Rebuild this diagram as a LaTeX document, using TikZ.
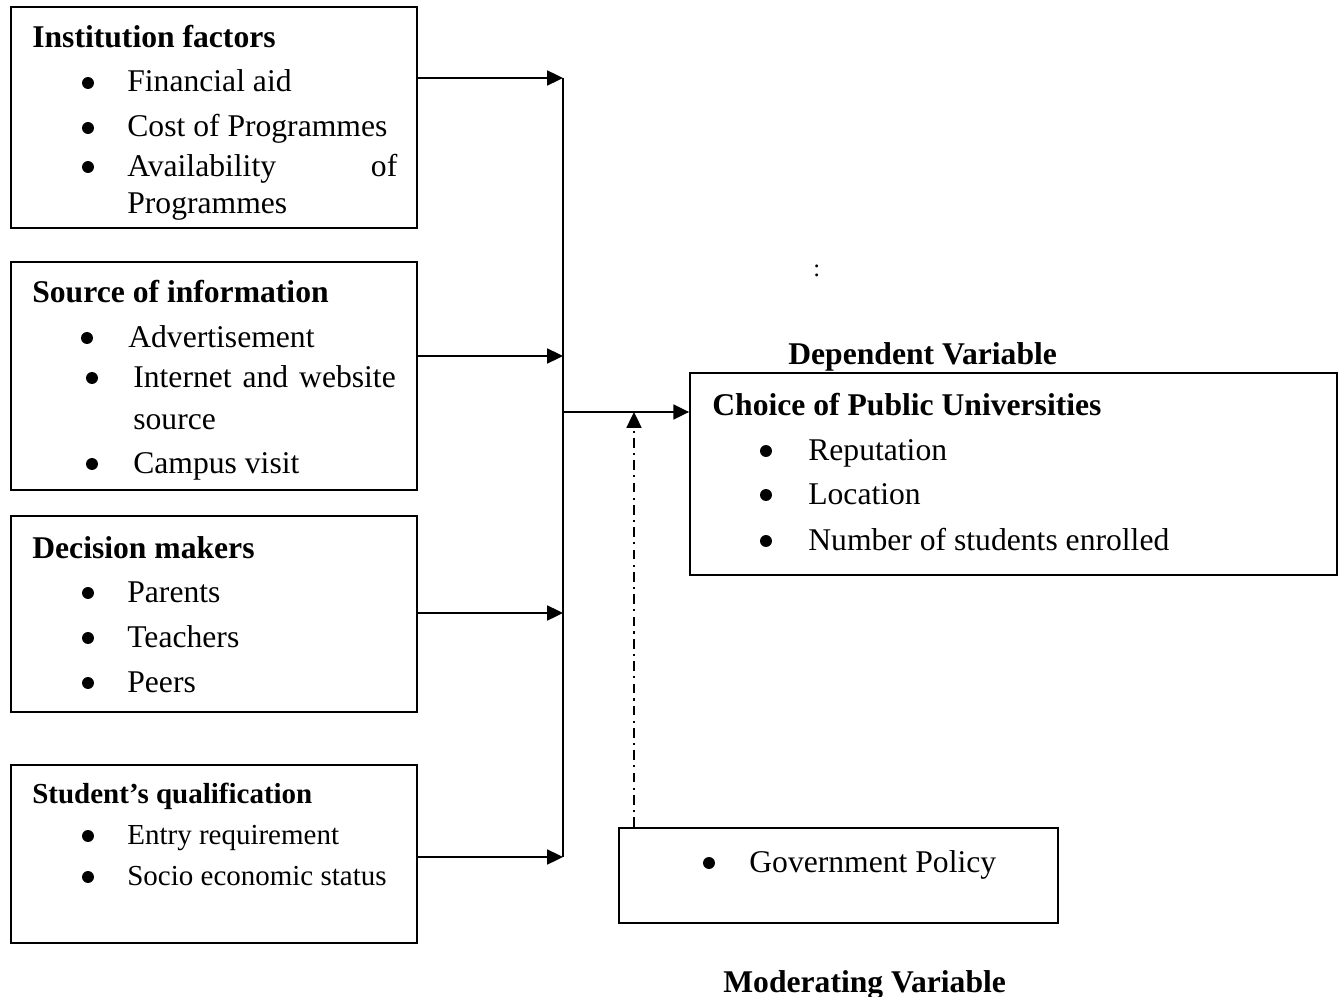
\documentclass[tikz,border=0pt]{standalone}
\usepackage{fontspec}
\setmainfont{Liberation Serif}
\usetikzlibrary{arrows.meta}
\tikzset{
  box/.style={draw, line width=1.1pt, inner sep=0pt},
  txt/.style={anchor=base west, inner sep=0pt, font=\fontsize{18}{22}\selectfont},
  hd/.style={txt, font=\fontsize{18}{22}\selectfont\bfseries},
  sml/.style={txt, font=\fontsize{16.5}{20}\selectfont},
  smlhd/.style={txt, font=\fontsize{16.5}{20}\selectfont\bfseries},
  arr/.style={line width=1.1pt, -{Triangle[length=9pt, width=8.5pt]}},
  dashdot/.style={line width=1.1pt, dash pattern=on 5.5pt off 3pt on 1.2pt off 3pt, -{Triangle[length=9pt, width=8.5pt]}},
}
\newcommand{\bul}[2]{\fill (#1,#2) circle (3.4pt);}

\begin{document}
\begin{tikzpicture}[x=0.02cm, y=-0.02cm]
  \useasboundingbox (0,0) rectangle (1343,997);
  % boxes
  \node[box, minimum width=8.12cm, minimum height=4.42cm] (inst) at (214,117.5) {};
  \node[box, minimum width=8.12cm, minimum height=4.56cm] (info) at (214,376) {};
  \node[box, minimum width=8.12cm, minimum height=3.92cm] (dec) at (214,614) {};
  \node[box, minimum width=8.12cm, minimum height=3.56cm] (qual) at (214,854) {};
  \node[box, minimum width=12.94cm, minimum height=4.04cm] (dep) at (1013.5,474) {};
  \node[box, minimum width=8.78cm, minimum height=1.9cm] (gov) at (838.5,875.5) {};

  % institution factors
  \node[hd] (insth) at (32,48) {Institution factors};
  \bul{88}{83} \node[txt] (i1) at (127,92) {Financial aid};
  \bul{88}{128} \node[txt] (i2) at (127,137) {Cost of Programmes};
  \bul{88}{167} \node[txt] (i3) at (127,176) {\makebox[5.4cm][s]{Availability of}};
  \node[txt] (i4) at (127,214) {Programmes};

  % source of information
  \node[hd] (infoh) at (32,302) {Source of information};
  \bul{87}{338} \node[txt] (s1) at (128,347) {Advertisement};
  \bul{92}{378} \node[txt] (s2) at (133,387) {\makebox[5.25cm][s]{Internet and website}};
  \node[txt] (s3) at (133,429) {source};
  \bul{92}{464} \node[txt] (s4) at (133,473) {Campus visit};

  % decision makers
  \node[hd] (dech) at (32,558) {Decision makers};
  \bul{88}{593} \node[txt] (d1) at (127,602) {Parents};
  \bul{88}{638} \node[txt] (d2) at (127,647) {Teachers};
  \bul{88}{683} \node[txt] (d3) at (127,692) {Peers};

  % qualification
  \node[smlhd] (qualh) at (32,803) {Student’s qualification};
  \bul{88}{836} \node[sml] (q1) at (127,844) {Entry requirement};
  \bul{88}{877} \node[sml] (q2) at (127,885) {Socio economic status};

  % dependent
  \node[hd] (deplab) at (788,364) {Dependent Variable};
  \node[hd] (deph) at (712,415) {Choice of Public Universities};
  \bul{766}{451} \node[txt] (c1) at (808,460) {Reputation};
  \bul{766}{495} \node[txt] (c2) at (808,504) {Location};
  \bul{766}{541} \node[txt] (c3) at (808,550) {Number of students enrolled};

  % moderating
  \bul{709}{863} \node[txt] (g1) at (749,872) {Government Policy};
  \node[hd] (modlab) at (723,992) {Moderating Variable};
  \node[txt, font=\fontsize{14}{16}\selectfont] (dots) at (813,276) {:};

  % connectors
  \coordinate (b1) at (563,78);
  \coordinate (b2) at (563,356);
  \coordinate (b3) at (563,613);
  \coordinate (b4) at (563,857);
  \coordinate (jn) at (563,412);
  \coordinate (mt) at (634,412);
  \draw[line width=1.1pt] (b1) -- (b4);
  \draw[arr] (inst.east |- b1) -- (b1);
  \draw[arr] (info.east |- b2) -- (b2);
  \draw[arr] (dec.east |- b3) -- (b3);
  \draw[arr] (qual.east |- b4) -- (b4);
  \draw[arr] (jn) -- (jn -| dep.west);
  \draw[dashdot] (mt |- gov.north) -- (mt);
\end{tikzpicture}
\end{document}
